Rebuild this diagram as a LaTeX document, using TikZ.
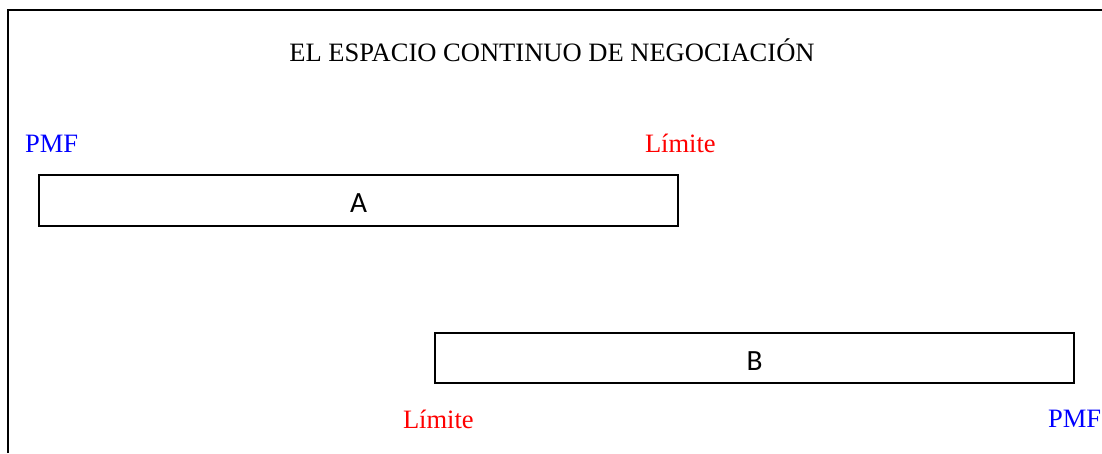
\documentclass[tikz,border=0pt]{standalone}
\usepackage{fontspec}
\setmainfont{Liberation Serif}
\newfontfamily\boxfont{Carlito}
\begin{document}
\begin{tikzpicture}[x=0.75pt, y=-0.75pt,
        every node/.style={inner sep=0pt, outer sep=0pt},
        tag/.style={font=\fontsize{19.9}{24}\selectfont, anchor=base west},
        pmf/.style={tag, text=blue},
        lim/.style={tag, text=red},
        bar/.style={draw, line width=1.6pt, minimum width=479.25pt, minimum height=38pt,
            text height=18.7pt, text depth=0pt,
            font=\boxfont\fontsize{22}{26}\selectfont}]

        \useasboundingbox (0,0) rectangle (1102,453);
        \draw[line width=1.8pt] (8,453) -- (8,10) -- (1102,10);

        \node[tag, anchor=base] (title) at (552,61) {EL ESPACIO CONTINUO DE NEGOCIACIÓN};

        \node[bar] (a) at (358.5,200.5) {A};
        \node[pmf] (pmfa) at (25,152) {PMF};
        \node[lim] (lima) at (645,152) {Límite};

        \node[bar] (b) at (754.5,358) {B};
        \node[lim] (limb) at (403,428) {Límite};
        \node[pmf] (pmfb) at (1048,427) {PMF};
\end{tikzpicture}
\end{document}
